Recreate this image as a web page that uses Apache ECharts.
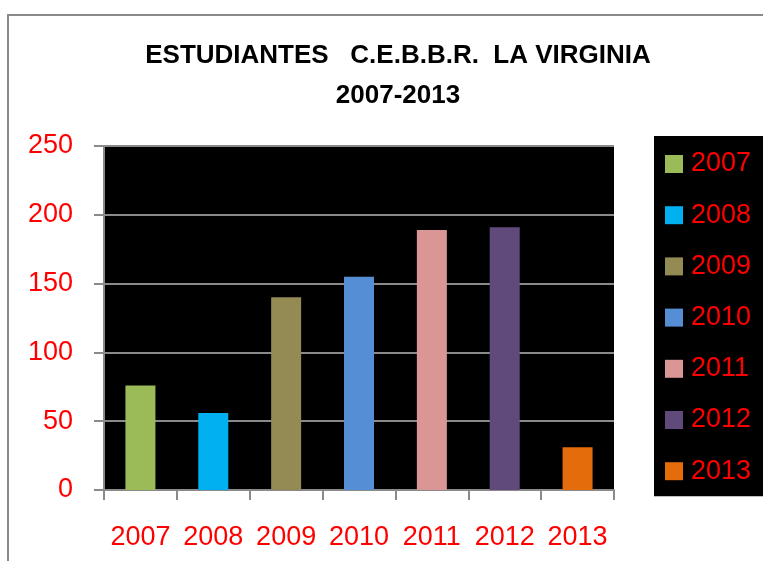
<!DOCTYPE html>
<html>
<head>
<meta charset="utf-8">
<script src="https://cdn.jsdelivr.net/npm/echarts@6/dist/echarts.min.js"></script>
<style>
  html, body { margin: 0; padding: 0; background: #fff; }
  #chart { width: 763px; height: 561px; }
</style>
</head>
<body>
<div id="chart"></div>
<script>
// datos
const years = ['2007', '2008', '2009', '2010', '2011', '2012', '2013']
const students = [76, 56, 140, 155, 189, 191, 31]
const barColors = ['#9BBB59', '#00B0F0', '#948A54', '#558ED5', '#D99694', '#604A7B', '#E46C0A']
const yTicks = [0, 50, 100, 150, 200, 250]

const labelFont = 'Liberation Sans'
const chart = echarts.init(document.getElementById('chart'))

// una serie por año para que la leyenda muestre cada año con su color
const series = years.map((y, i) => ({
  name: y,
  type: 'bar',
  barWidth: 30,
  barGap: '-100%',
  itemStyle: { color: barColors[i] },
  data: years.map((_, j) => (j === i ? students[i] : '-')),
}))

const option = {
  animation: false,
  color: barColors,
  title: {
    text: 'ESTUDIANTES   C.E.B.B.R.  LA VIRGINIA\n2007-2013',
    left: 393,
    top: 31,
    textAlign: 'center',
    textStyle: {
      fontFamily: labelFont,
      fontWeight: 'bold',
      fontSize: 26,
      lineHeight: 40,
      color: '#000',
    },
  },
  graphic: [
    {
      type: 'rect',
      z: -10,
      shape: { x: 8, y: 15, width: 800, height: 600 },
      style: { fill: 'none', stroke: '#8a8a8a', lineWidth: 2 },
    },
  ],
  legend: {
    orient: 'vertical',
    left: 654,
    top: 136,
    backgroundColor: '#000',
    padding: [13, 12, 10, 11],
    itemWidth: 18,
    itemHeight: 18,
    itemGap: 21.2,
    icon: 'rect',
    data: years,
    textStyle: {
      fontFamily: labelFont,
      fontSize: 27,
      lineHeight: 30,
      padding: [0, 0, 0, 3],
      color: '#FF0000',
    },
  },
  grid: {
    left: 104,
    right: 149,
    top: 146,
    bottom: 71,
    show: true,
    backgroundColor: '#000',
    borderWidth: 0,
  },
  xAxis: {
    type: 'category',
    data: years,
    axisLine: { lineStyle: { color: '#8a8a8a', width: 2 } },
    axisTick: { show: true, length: 10, lineStyle: { color: '#8a8a8a', width: 2 } },
    axisLabel: {
      interval: 0,
      margin: 34,
      color: '#FF0000',
      fontFamily: labelFont,
      fontSize: 27,
    },
  },
  yAxis: {
    type: 'value',
    min: yTicks[0],
    max: yTicks[yTicks.length - 1],
    interval: 50,
    axisLine: { show: true, lineStyle: { color: '#8a8a8a', width: 2 } },
    axisTick: { show: true, length: 10, lineStyle: { color: '#8a8a8a', width: 2 } },
    splitLine: { show: true, lineStyle: { color: '#8a8a8a', width: 2 } },
    axisLabel: {
      margin: 31,
      color: '#FF0000',
      fontFamily: labelFont,
      fontSize: 27,
    },
  },
  series: series,
}

chart.setOption(option)
</script>
</body>
</html>
